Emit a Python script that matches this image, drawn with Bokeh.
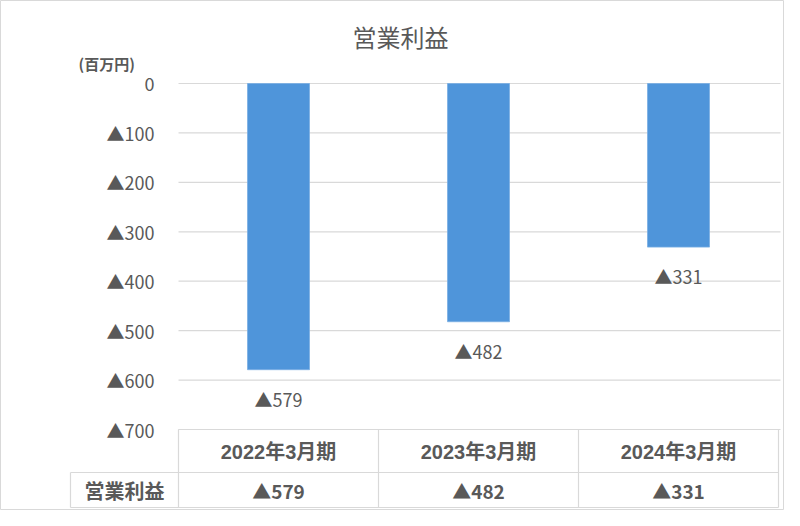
from bokeh.plotting import figure
from bokeh.models import ColumnDataSource, Range1d
from bokeh.core.properties import value
from bokeh.embed import file_html
from bokeh.resources import INLINE

# ---- data ----
title_text = "営業利益"
unit_text = "(百万円)"
categories = ["2022年3月期", "2023年3月期", "2024年3月期"]
series_name = "営業利益"
values = [-579, -482, -331]
y_ticks = [0, -100, -200, -300, -400, -500, -600, -700]
y_tick_labels = ["0", "▲100", "▲200", "▲300", "▲400", "▲500", "▲600", "▲700"]

def fmt(v):
    return ("▲" + str(-v)) if v < 0 else str(v)

# ---- layout constants (canvas pixels -> data) ----
W, H = 784, 510
PX_Y = 700 / 346.0      # value units per pixel
PX_X = 1 / 200.0        # category units per pixel
Y0_PAGE = 83            # canvas y of value 0
X0_PAGE = 178           # canvas x of left edge of plot area

def dx(px):
    return (px - X0_PAGE) * PX_X

def dy(py):
    return (Y0_PAGE - py) * PX_Y

FONT = value("Noto Sans CJK JP")
LAT = value("Liberation Sans, Noto Sans CJK JP")
CJK = value("Noto Sans CJK JP")
TXT = "#595959"
GRID = "#d9d9d9"
BAR = "#4F95DA"

p = figure(width=W, height=H, output_backend="svg", toolbar_location=None,
           x_range=Range1d(dx(0), dx(W)), y_range=Range1d(dy(H), dy(0)),
           x_axis_location=None, y_axis_location=None, min_border=0,
           outline_line_color=GRID)
p.grid.visible = False
p.background_fill_color = "white"
p.border_fill_color = "white"

n = len(categories)
xc = [i + 0.5 for i in range(n)]
x_right = dx(780)

# gridlines
p.segment(x0=[0] * len(y_ticks), x1=[x_right] * len(y_ticks),
          y0=y_ticks, y1=y_ticks, line_color=GRID, line_width=1.2)

# bars
src = ColumnDataSource(dict(x=xc, top=[0] * n, bottom=values))
p.vbar(x="x", top="top", bottom="bottom", width=0.31, source=src,
       fill_color=BAR, line_color="#7aaee3", line_width=0.8)

# bar labels
p.text(x=xc, y=[v - 29 * PX_Y for v in values], text=[fmt(v) for v in values],
       text_align="center", text_baseline="middle", text_font=FONT,
       text_font_size="18px", text_color=TXT)

# y tick labels
p.text(x=[dx(154)] * len(y_ticks), y=y_ticks, text=y_tick_labels,
       text_align="right", text_baseline="middle", text_font=FONT,
       text_font_size="18px", text_color=TXT)

# title & unit
p.text(x=[dx(400)], y=[dy(36)], text=[title_text], text_align="center",
       text_baseline="middle", text_font=CJK, text_font_size="24px", text_color=TXT)
p.text(x=[dx(78)], y=[dy(63)], text=[unit_text], text_align="left",
       text_baseline="middle", text_font=CJK, text_font_size="15px",
       text_font_style="bold", text_color=TXT)

# data table
xl = dx(70)
y_top = y_ticks[-1]
y_mid = dy(472)
y_bot = dy(507)
hx0 = [0, xl, xl, xl] + list(range(n + 1))
hx1 = [n, n, n, xl] + list(range(n + 1))
hy0 = [y_top, y_mid, y_bot, y_mid] + [y_top] * (n + 1)
hy1 = [y_top, y_mid, y_bot, y_bot] + [y_bot] * (n + 1)
p.segment(x0=hx0, x1=hx1, y0=hy0, y1=hy1, line_color=GRID, line_width=1.2)

p.text(x=xc, y=[dy(451)] * n, text=categories, text_align="center",
       text_baseline="middle", text_font=LAT, text_font_size="20px",
       text_font_style="bold", text_color=TXT)
p.text(x=xc, y=[dy(490)] * n, text=[fmt(v) for v in values], text_align="center",
       text_baseline="middle", text_font=FONT, text_font_size="19px",
       text_font_style="bold", text_color=TXT)
p.text(x=[(xl + 0) / 2], y=[dy(490)], text=[series_name], text_align="center",
       text_baseline="middle", text_font=CJK, text_font_size="20px",
       text_font_style="bold", text_color=TXT)

open("out.html", "w").write(file_html(p, INLINE))
